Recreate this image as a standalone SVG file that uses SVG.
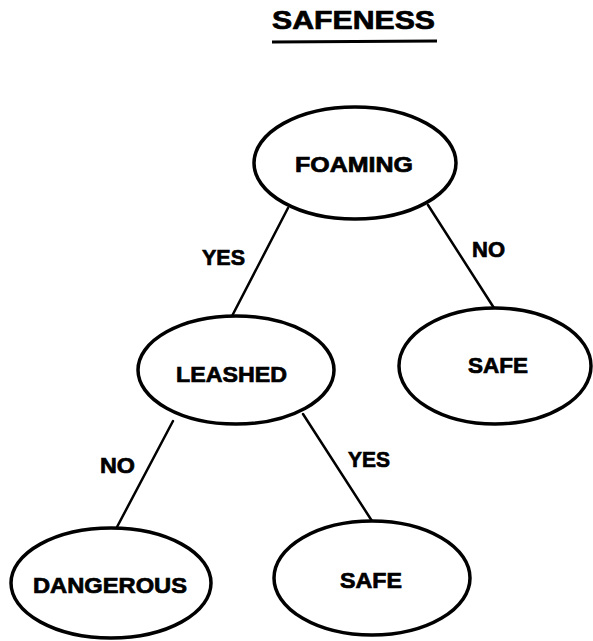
<svg xmlns="http://www.w3.org/2000/svg" width="593" height="641" viewBox="0 0 593 641">
<style>
.bg{fill:#ffffff}
.node ellipse{fill:#ffffff;stroke:#000000;stroke-width:3.5}
.t{font-family:"Liberation Sans",Arial,sans-serif;font-weight:bold;font-size:22px;fill:#000000;stroke:#000000;stroke-width:0.7;text-anchor:middle}
.title{font-size:26px}
#edges line{stroke:#000000;stroke-width:2.5;stroke-linecap:round}
</style>
<rect class="bg" x="0" y="0" width="593" height="641"/>
<g id="title">
<text class="t title" x="353.5" y="29" textLength="163" lengthAdjust="spacingAndGlyphs">SAFENESS</text>
<line x1="272" y1="42" x2="437" y2="41" stroke="#000" stroke-width="3"/>
</g>
<g id="edges">
<line x1="288" y1="208" x2="231" y2="318"/>
<line x1="428" y1="205" x2="494" y2="308"/>
<line x1="173" y1="421" x2="117" y2="527"/>
<line x1="303" y1="414" x2="372" y2="521"/>
<text class="t" x="223.5" y="265" textLength="43" lengthAdjust="spacingAndGlyphs">YES</text>
<text class="t" x="488.5" y="257" textLength="33" lengthAdjust="spacingAndGlyphs">NO</text>
<text class="t" x="117.5" y="473" textLength="35" lengthAdjust="spacingAndGlyphs">NO</text>
<text class="t" x="369" y="467" textLength="42" lengthAdjust="spacingAndGlyphs">YES</text>
</g>
<g id="foaming" class="node">
<ellipse cx="355" cy="163" rx="101" ry="56"/>
<text class="t" x="354" y="172" textLength="118" lengthAdjust="spacingAndGlyphs">FOAMING</text>
</g>
<g id="leashed" class="node">
<ellipse cx="236" cy="370" rx="98" ry="54"/>
<text class="t" x="231.5" y="382" textLength="111" lengthAdjust="spacingAndGlyphs">LEASHED</text>
</g>
<g id="safe1" class="node">
<ellipse cx="495" cy="366" rx="96" ry="58"/>
<text class="t" x="498" y="373" textLength="60" lengthAdjust="spacingAndGlyphs">SAFE</text>
</g>
<g id="dangerous" class="node">
<ellipse cx="111" cy="583" rx="100" ry="55"/>
<text class="t" x="110" y="593" textLength="154" lengthAdjust="spacingAndGlyphs">DANGEROUS</text>
</g>
<g id="safe2" class="node">
<ellipse cx="372" cy="578" rx="98" ry="57"/>
<text class="t" x="371" y="588" textLength="62" lengthAdjust="spacingAndGlyphs">SAFE</text>
</g>
</svg>
